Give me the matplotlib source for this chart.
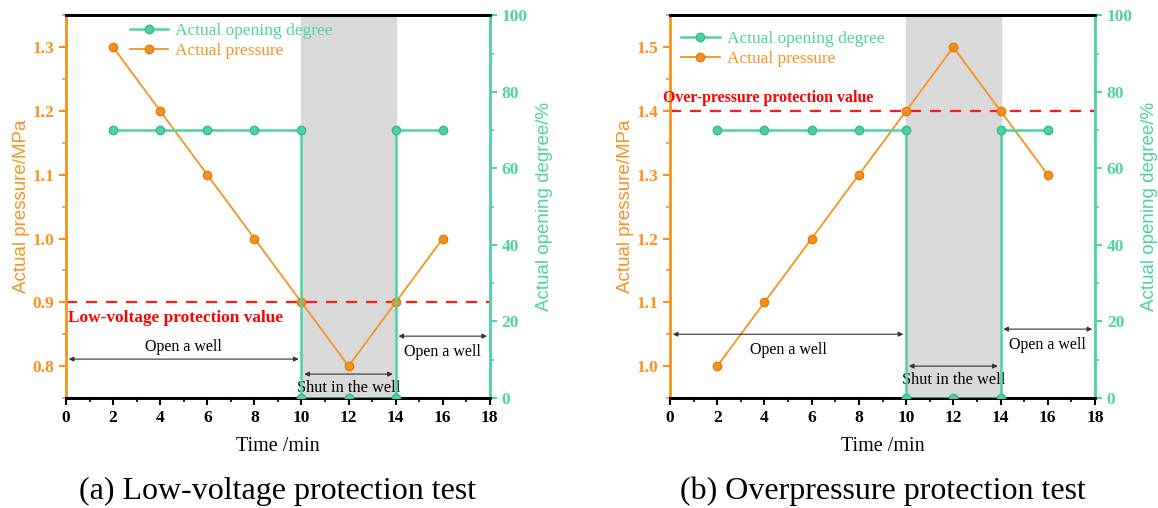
import matplotlib.pyplot as plt
from matplotlib.lines import Line2D
from matplotlib.ticker import MultipleLocator

plt.rcParams['font.family'] = ['Liberation Serif', 'DejaVu Serif']

time = [2, 4, 6, 8, 10, 12, 14, 16]
pressure_a = [1.3, 1.2, 1.1, 1.0, 0.9, 0.8, 0.9, 1.0]
pressure_b = [1.0, 1.1, 1.2, 1.3, 1.4, 1.5, 1.4, 1.3]
open_time = [2, 4, 6, 8, 10, 10, 12, 14, 14, 16]
opening = [70, 70, 70, 70, 70, 0, 0, 0, 70, 70]

orange = '#F7921E'
green = '#4DD3A2'

panels = [
    dict(pos=[0.057, 0.2165, 0.366, 0.7535], p=pressure_a, ylim=(0.75, 1.35),
         limit=0.9, limit_text='Low-voltage protection value', limit_dy=-0.012, limit_va='top',
         limit_x=0.1, limit_fs=12.4,
         open1=0.811, open1_text_dy=0.006, open1_va='bottom',
         open2=0.847, shut=0.7875, leg=(0.113, 1.02),
         caption='(a) Low-voltage protection test'),
    dict(pos=[0.5786, 0.2165, 0.367, 0.7535], p=pressure_b, ylim=(0.95, 1.55),
         limit=1.4, limit_text='Over-pressure protection value', limit_dy=0.008, limit_va='bottom',
         limit_x=-0.3, limit_fs=11.4,
         open1=1.05, open1_text_dy=-0.012, open1_va='top',
         open2=1.058, shut=1.0, leg=(-0.01, 1.0),
         caption='(b) Overpressure protection test'),
]

fig = plt.figure(figsize=(11.58, 5.08), dpi=100)

for pn in panels:
    ax = fig.add_axes(pn['pos'])
    ax2 = ax.twinx()

    ax.axvspan(10, 14, color='#D9D9D9', zorder=0)
    ax.plot(time, pn['p'], color=orange, lw=1.3, marker='o', ms=6,
            markerfacecolor=orange, markeredgecolor='#E07A10', zorder=3)
    ax.axhline(pn['limit'], color='#FF1A1A', ls=(0, (5, 4)), lw=1.6, zorder=2)
    ax.text(pn['limit_x'], pn['limit'] + pn['limit_dy'], pn['limit_text'], color='#FF0000',
            fontsize=pn['limit_fs'], fontweight='bold', va=pn['limit_va'], ha='left')

    arrow = dict(arrowstyle='<|-|>', color='#333333', lw=0.8, mutation_scale=7)
    ax.annotate('', xy=(0, pn['open1']), xytext=(10, pn['open1']), arrowprops=arrow)
    ax.text(5, pn['open1'] + pn['open1_text_dy'], 'Open a well', ha='center',
            va=pn['open1_va'], fontsize=11.5)
    ax.annotate('', xy=(14, pn['open2']), xytext=(18, pn['open2']), arrowprops=arrow)
    ax.text(16, pn['open2'] - 0.012, 'Open a well', ha='center', va='top', fontsize=11.5)
    ax.annotate('', xy=(10, pn['shut']), xytext=(14, pn['shut']), arrowprops=arrow)
    ax.text(12, pn['shut'] - 0.01, 'Shut in the well', ha='center', va='top', fontsize=11.8)

    ax2.plot(open_time, opening, color=green, lw=1.8, marker='o', ms=6,
             markerfacecolor=green, markeredgecolor='#36B888', zorder=3)

    ax.set_xlim(0, 18)
    ax.set_ylim(*pn['ylim'])
    ax2.set_ylim(0, 100)
    ax.xaxis.set_major_locator(MultipleLocator(2))
    ax.xaxis.set_minor_locator(MultipleLocator(1))
    ax.yaxis.set_major_locator(MultipleLocator(0.1))
    ax.yaxis.set_minor_locator(MultipleLocator(0.05))
    ax2.yaxis.set_major_locator(MultipleLocator(20))
    ax2.yaxis.set_minor_locator(MultipleLocator(10))

    ax.spines['left'].set_color(orange)
    ax.spines['left'].set_linewidth(2)
    ax2.spines['left'].set_visible(False)
    ax2.spines['right'].set_color(green)
    ax2.spines['right'].set_linewidth(2)
    for a in (ax, ax2):
        a.spines['top'].set_linewidth(2)
        a.spines['bottom'].set_linewidth(2)

    ax.tick_params(axis='x', which='major', length=5, width=1.5, labelsize=12.5)
    ax.tick_params(axis='x', which='minor', length=3, width=1.2)
    ax.tick_params(axis='y', which='major', colors=orange, length=5, width=1.5, labelsize=12.5)
    ax.tick_params(axis='y', which='minor', colors=orange, length=3, width=1.2)
    ax2.tick_params(axis='y', which='major', colors=green, length=5, width=1.5, labelsize=12.5)
    ax2.tick_params(axis='y', which='minor', colors=green, length=3, width=1.2)
    for lab in ax.get_xticklabels() + ax.get_yticklabels() + ax2.get_yticklabels():
        lab.set_fontweight('bold')

    ax.set_xlabel('Time /min', fontsize=14.5, labelpad=8)
    ax.set_ylabel('Actual pressure/MPa', fontsize=13.5, color=orange,
                  family=['Liberation Sans', 'DejaVu Sans'])
    ax.yaxis.set_label_coords(-0.085, 0.5)
    ax2.set_ylabel('Actual opening degree/%', fontsize=13.5, color=green,
                   family=['Liberation Sans', 'DejaVu Sans'])
    ax2.yaxis.set_label_coords(1.108, 0.5)

    handles = [
        Line2D([], [], color=green, lw=1.8, marker='o', ms=6, markerfacecolor=green,
               markeredgecolor='#36B888', label='Actual opening degree'),
        Line2D([], [], color=orange, lw=1.3, marker='o', ms=6, markerfacecolor=orange,
               markeredgecolor='#E07A10', label='Actual pressure'),
    ]
    ax2.legend(handles=handles, loc='upper left', bbox_to_anchor=pn['leg'],
               frameon=False, fontsize=12.5, labelcolor='linecolor',
               handlelength=2.2, handletextpad=0.4, labelspacing=0.2)

    x0, y0, w, h = pn['pos']
    fig.text(x0 + w / 2, 0.032, pn['caption'], ha='center', va='center', fontsize=23)

fig.savefig('out.png', dpi=100)
